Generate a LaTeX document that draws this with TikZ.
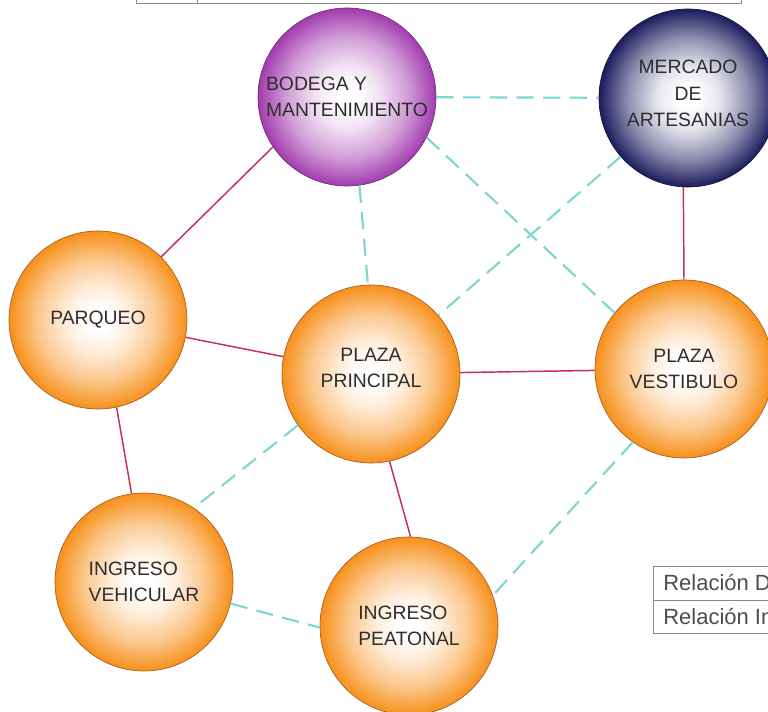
\documentclass[tikz,border=0pt]{standalone}
\usepackage{fontspec}
\setmainfont{Liberation Sans}
\definecolor{orE}{HTML}{F7901A}
\colorlet{orM}{orE!50!white}
\colorlet{orL}{orE!15!white}
\definecolor{puE}{HTML}{A23CAE}
\colorlet{puM}{puE!50!white}
\colorlet{puL}{puE!15!white}
\definecolor{nvE}{HTML}{1C1C5E}
\colorlet{nvM}{nvE!50!white}
\colorlet{nvL}{nvE!12!white}
\definecolor{relred}{HTML}{C42F55}
\definecolor{relcyan}{HTML}{7ED6D2}
\definecolor{rimbrown}{HTML}{A85A2A}
\definecolor{txt}{HTML}{2E2E2E}
\definecolor{framegray}{HTML}{8A8A8A}
\pgfdeclareradialshading{orangeball}{\pgfpoint{0bp}{0bp}}{color(0bp)=(white); color(3bp)=(white); color(9bp)=(orL); color(17bp)=(orM); color(25bp)=(orE); color(50bp)=(orE)}
\pgfdeclareradialshading{purpleball}{\pgfpoint{0bp}{0bp}}{color(0bp)=(white); color(3bp)=(white); color(9bp)=(puL); color(17bp)=(puM); color(25bp)=(puE); color(50bp)=(puE)}
\pgfdeclareradialshading{navyball}{\pgfpoint{0bp}{0bp}}{color(0bp)=(white); color(3bp)=(white); color(9bp)=(nvL); color(17bp)=(nvM); color(25bp)=(nvE); color(50bp)=(nvE)}
\tikzset{
  ball/.style={circle, minimum size=133.5pt, inner sep=0pt, draw=rimbrown, line width=0.5pt,
    text=txt, font=\fontsize{14.5}{20}\selectfont},
  oball/.style={ball, shading=orangeball},
  pball/.style={ball, shading=purpleball, draw=puE!70!black},
  nball/.style={ball, shading=navyball, draw=nvE!70!black},
  direct/.style={draw=relred, line width=1.1pt},
  indirect/.style={draw=relcyan, line width=1.6pt, dash pattern=on 13pt off 7pt},
  legbox/.style={draw=framegray, line width=0.6pt},
  legtext/.style={anchor=west, text=txt!85!white, font=\fontsize{16.5}{18}\selectfont, inner sep=0pt}
}
\begin{document}
\begin{tikzpicture}[x=0.75pt,y=-0.75pt]
\useasboundingbox (0,0) rectangle (768,712);
\clip (0,0) rectangle (768,712);
% top frame
\draw[legbox] (136,-20) rectangle (741,3);
\draw[legbox] (197,-20) -- (197,3);
% nodes
\node[pball, align=left] (bod) at (347,97) {BODEGA Y\\MANTENIMIENTO};
\node[nball] (mer) at (688,98) {\raisebox{-1.3pt}[0pt][0pt]{\begin{tabular}{@{}c@{}}MERCADO\\[-0.3pt]DE\\[-0.3pt]ARTESANIAS\end{tabular}}};
\node[oball] (pq) at (98,320) {PARQUEO};
\node[oball] (pp) at (371,374) {\raisebox{0pt}[0pt][0pt]{\begin{tabular}{@{}c@{}}PLAZA\\PRINCIPAL\end{tabular}}};
\node[oball, align=center] (pv) at (684,369) {PLAZA\\VESTIBULO};
\node[oball, align=left] (iv) at (144,582) {INGRESO\\VEHICULAR};
\node[oball, align=left] (ip) at (409,626) {INGRESO\\PEATONAL};
% direct relations
\draw[direct] (pq.45) -- (bod.214);
\draw[direct] (pq) -- (pp);
\draw[direct] (pq.-78) -- (iv.98);
\draw[direct] (pp) -- (pv);
\draw[direct] (pp.-78) -- (ip.89);
\draw[direct] (mer.-93) -- (pv.north);
% indirect relations
\draw[indirect] (bod) -- (mer);
\draw[indirect] (bod.-82) -- (pp.92);
\draw[indirect] (bod.-27) -- (pv.141);
\draw[indirect] (mer) -- (pp);
\draw[indirect] (pp.215) -- (iv.56);
\draw[indirect] (iv.-14) -- (ip.181);
\draw[indirect] (pv.235) -- (ip.20);
% legend
\draw[legbox] (653,566) rectangle (790,633);
\draw[legbox] (653,600) -- (790,600);
\node[legtext] (l1) at (663,583) {Relación Directa};
\node[legtext] (l2) at (663,617) {Relación Indirecta};
\end{tikzpicture}
\end{document}
